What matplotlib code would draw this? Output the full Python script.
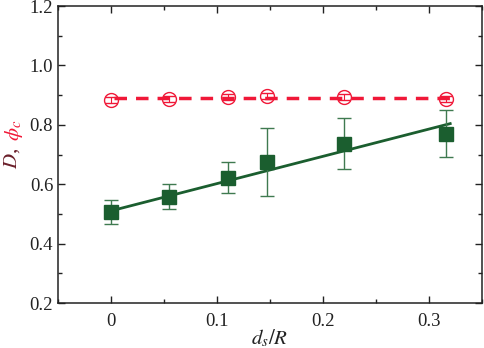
import matplotlib
matplotlib.use("Agg")
import matplotlib.pyplot as plt
from matplotlib.ticker import MultipleLocator, FixedLocator

plt.rcParams['font.family'] = ['Liberation Serif', 'DejaVu Serif']
plt.rcParams['mathtext.fontset'] = 'stix'

x = [0.0, 0.055, 0.110, 0.147, 0.220, 0.316]
D = [0.506, 0.558, 0.622, 0.674, 0.737, 0.770]
D_err = [0.040, 0.042, 0.052, 0.115, 0.087, 0.080]
phi = [0.882, 0.888, 0.894, 0.896, 0.893, 0.887]
phi_err = [0.010, 0.010, 0.010, 0.010, 0.010, 0.010]
fit_x = [0.003, 0.320]
fit_D = [0.513, 0.804]
fit_phi = [0.890, 0.890]
xticks = [0, 0.1, 0.2, 0.3]
xticklabels = ['0', '0.1', '0.2', '0.3']
yticks = [0.2, 0.4, 0.6, 0.8, 1.0, 1.2]

green = '#1b5e2f'
red = '#f01838'

fig = plt.figure(figsize=(4.85, 3.48), dpi=100)
ax = fig.add_axes([58/485, 1-303/348, (482-58)/485, (303-6)/348])

ax.plot(fit_x, fit_phi, color=red, lw=2.5, ls=(0, (3.6, 2.6)), zorder=2)
ax.errorbar(x, phi, yerr=phi_err, fmt='o', ms=10, mfc='none', mec=red, mew=1,
            ecolor=red, elinewidth=0.8, capsize=4, capthick=0.8, zorder=3)
ax.plot(fit_x, fit_D, color=green, lw=2, zorder=2)
ax.errorbar(x, D, yerr=D_err, fmt='s', ms=10, mfc=green, mec=green,
            ecolor='#3f7a50', elinewidth=1, capsize=5, capthick=1, zorder=3)

ax.set_xlim(-0.05, 0.35)
ax.set_ylim(0.2, 1.2)
ax.xaxis.set_major_locator(FixedLocator(xticks))
ax.set_xticklabels(xticklabels)
ax.xaxis.set_minor_locator(MultipleLocator(0.05))
ax.yaxis.set_major_locator(FixedLocator(yticks))
ax.set_yticklabels([f'{v:.1f}' for v in yticks])
ax.yaxis.set_minor_locator(MultipleLocator(0.1))
ax.tick_params(which='both', direction='in', top=True, right=True,
               labelsize=13.5, colors='#222222')
ax.tick_params(which='major', length=5, width=1)
ax.tick_params(which='minor', length=3, width=1)
ax.tick_params(axis='x', pad=7)
for s in ax.spines.values():
    s.set_linewidth(1.1)
    s.set_color('#222222')

xl = ax.set_xlabel(r'$d_s/R$', fontsize=15, color='#222222', va='center')
ax.xaxis.set_label_coords(0.5, -0.118)
fig.text(0.024, 0.545, r'$D$,', rotation=90, fontsize=15, color='#6b1f2a',
         ha='center', va='center')
fig.text(0.028, 0.625, r'$\phi_c$', rotation=90, fontsize=15, color=red,
         ha='center', va='center')

fig.savefig('out.png', dpi=100)
